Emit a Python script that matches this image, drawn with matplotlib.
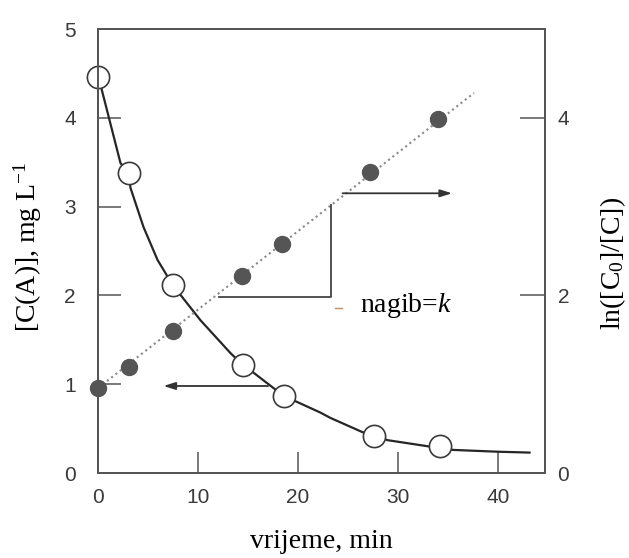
import matplotlib
matplotlib.use("Agg")
import matplotlib.pyplot as plt

plt.rcParams['mathtext.fontset'] = 'custom'
plt.rcParams['mathtext.rm'] = 'Liberation Serif'
plt.rcParams['mathtext.it'] = 'Liberation Serif:italic'

# koncentracija (lijeva os), otvoreni krugovi
t_conc = [0.05, 3.05, 7.45, 14.45, 18.55, 27.55, 34.15]
conc = [4.46, 3.38, 2.12, 1.22, 0.87, 0.42, 0.30]

# krivulja kroz tocke (ocitano sa slike)
t_fit = [0.05, 2.25, 3.05, 3.25, 4.55, 5.95, 7.45, 10.25, 13.25, 14.45, 15.55,
         18.55, 22.25, 23.25, 26.45, 27.55, 28.95, 33.05, 35.55, 39.95, 43.15]
conc_fit = [4.46, 3.49, 3.38, 3.21, 2.77, 2.40, 2.12, 1.72, 1.35, 1.22, 1.13,
            0.87, 0.68, 0.62, 0.46, 0.43, 0.37, 0.30, 0.26, 0.24, 0.23]

# ln([C0]/[C]) (desna os), pune tocke
t_ln = [0.05, 3.05, 7.45, 14.35, 18.35, 27.15, 34.0]
ln_ratio = [0.96, 1.19, 1.60, 2.22, 2.58, 3.39, 3.99]

# pravac
t_line = [0.05, 37.6]
ln_line = [0.96, 4.28]

x_ticks = [0, 10, 20, 30, 40]
y_left_ticks = [0, 1, 2, 3, 4, 5]
y_right_ticks = [0, 2, 4]

spine_col = '#555555'
tick_col = '#3a3a3a'

fig = plt.figure(figsize=(6.29, 5.58), dpi=100)
ax = fig.add_axes([0.1558, 0.1523, 0.7107, 0.7957])
ax2 = ax.twinx()

for a in (ax, ax2):
    a.set_xlim(0, 44.7)
    a.set_ylim(0, 5)
    for s in a.spines.values():
        s.set_color(spine_col)
        s.set_linewidth(1.4)

# krivulja i krugovi
ax.plot(t_fit, conc_fit, color='#262626', lw=1.6, solid_joinstyle='round', zorder=3)
ax.plot(t_conc, conc, 'o', ms=16, mfc='white', mec='#3a3a3a', mew=1.2,
        clip_on=False, zorder=4)

# pravac i pune tocke
ax2.plot(t_line, ln_line, ls=(0, (1, 1.6)), color='#8a8a8a', lw=1.5, zorder=2)
ax2.plot(t_ln, ln_ratio, 'o', ms=11.5, color='#555555', clip_on=False, zorder=3)

# trokut nagiba
ax2.plot([12.05, 23.25, 23.25], [1.98, 1.98, 3.02], color='#444444', lw=1.3)
ax2.plot([23.7, 24.4], [1.86, 1.86], color='#c09060', lw=1.0)
ax2.text(26.2, 1.89, 'nagib=$\\mathit{k}$', fontsize=20, family='Liberation Serif',
         ha='left', va='center')

# strelice
ax.annotate('', xy=(6.55, 0.98), xytext=(17.0, 0.98),
            arrowprops=dict(arrowstyle='-|>,head_length=0.7,head_width=0.22',
                            color='#333333', lw=1.3, shrinkA=0, shrinkB=0))
ax2.annotate('', xy=(35.4, 3.15), xytext=(24.45, 3.15),
             arrowprops=dict(arrowstyle='-|>,head_length=0.7,head_width=0.22',
                             color='#333333', lw=1.3, shrinkA=0, shrinkB=0))

# osi
ax.set_xticks(x_ticks)
ax.set_yticks(y_left_ticks)
ax2.set_yticks(y_right_ticks)

ax.tick_params(axis='x', direction='in', length=15, width=1.1, color=spine_col,
               pad=11, labelsize=15, labelcolor=tick_col)
ax.tick_params(axis='y', direction='in', length=16.5, width=1.1, color=spine_col,
               pad=16, labelsize=15, labelcolor=tick_col, right=False)
ax2.tick_params(axis='y', direction='in', length=18, width=1.1, color=spine_col,
                pad=9, labelsize=15, labelcolor=tick_col)

for lab in ax.get_xticklabels() + ax.get_yticklabels() + ax2.get_yticklabels():
    lab.set_family('Liberation Sans')

ax.xaxis.get_major_ticks()[0].tick1line.set_visible(False)
yt = ax.yaxis.get_major_ticks()
yt[0].tick1line.set_visible(False)
yt[-1].tick1line.set_visible(False)
ax2.yaxis.get_major_ticks()[0].tick2line.set_visible(False)

ax.set_xlabel('vrijeme, min', fontsize=20, family='Liberation Serif', va='center')
ax.xaxis.set_label_coords(0.5, -0.155)
ax.set_ylabel('[C(A)], mg L$^{-1}$', fontsize=20, family='Liberation Serif', va='center')
ax.yaxis.set_label_coords(-0.157, 0.509)
ax2.set_ylabel('ln([C$_{0}$]/[C])', fontsize=20, family='Liberation Serif', va='center')
ax2.yaxis.set_label_coords(1.152, 0.473)

fig.savefig('out.png', dpi=100)
